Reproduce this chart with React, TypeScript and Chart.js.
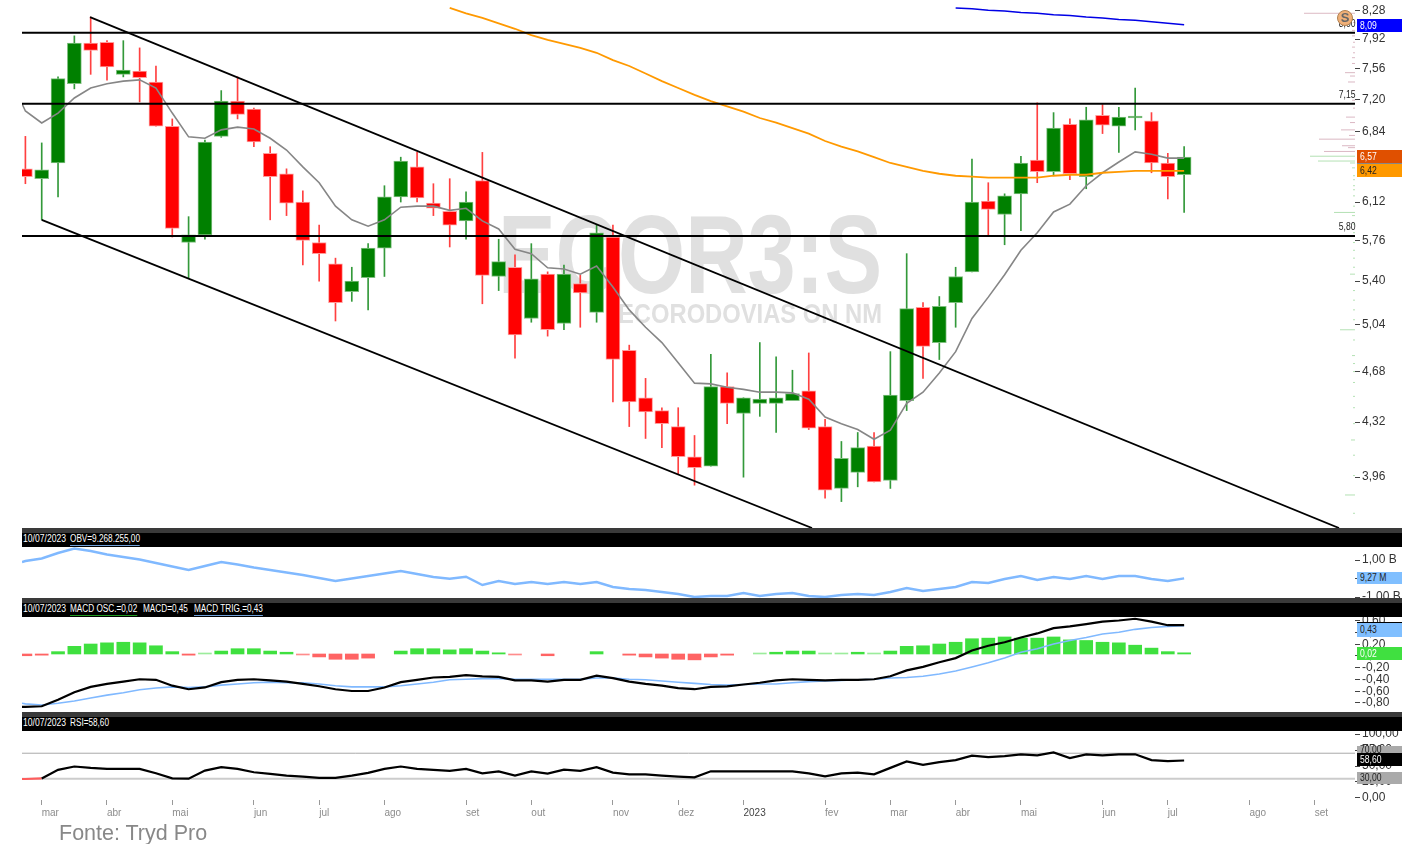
import React, { useEffect, useRef } from "react";
import { Chart, registerables } from "chart.js";

Chart.register(...registerables);

// ---------- data ----------
const opens = [6.45,6.35,6.51,7.38,7.87,7.88,7.49,7.53,7.40,6.90,5.74,5.81,6.79,7.18,7.09,6.61,6.40,6.12,5.74,5.55,5.31,5.43,5.69,6.17,6.47,6.11,6.03,5.94,6.33,5.44,5.52,5.09,5.46,5.05,5.38,5.14,5.79,4.84,4.49,4.40,4.29,4.09,4.03,4.57,4.38,4.45,4.45,4.47,4.54,4.29,3.89,3.99,4.16,3.94,4.47,5.18,4.90,5.22,5.48,6.13,6.00,6.20,6.54,6.42,6.92,6.37,7.02,6.90,6.99,6.96,6.51,6.39];
const highs = [6.79,6.72,7.46,7.96,8.20,7.90,7.90,7.81,7.59,6.98,5.98,6.75,7.30,7.46,7.10,6.68,6.45,6.23,5.90,5.60,5.52,5.73,6.28,6.57,6.62,6.30,6.35,6.22,6.62,5.77,5.63,5.73,5.48,5.54,5.45,5.90,5.90,4.88,4.63,4.42,4.42,4.23,4.81,4.67,4.49,4.90,4.79,4.69,4.82,4.34,4.19,4.25,4.25,4.83,5.64,5.22,5.27,5.52,6.55,6.31,6.20,6.58,7.16,7.05,6.98,7.11,7.14,7.11,7.33,7.05,6.61,6.68];
const lows = [6.30,5.95,6.17,7.32,7.49,7.42,7.46,7.17,6.90,5.79,5.43,5.77,6.78,6.98,6.68,5.95,5.99,5.54,5.40,5.07,5.23,5.16,5.44,6.12,6.12,5.99,5.70,5.77,5.21,5.32,4.78,5.06,4.95,5.00,5.02,5.06,4.46,4.29,4.21,4.15,3.98,3.91,4.03,4.31,3.96,4.36,4.25,4.47,4.27,3.83,3.81,3.90,3.93,3.89,4.40,4.63,4.77,5.02,5.48,5.81,5.72,5.85,6.31,6.38,6.34,6.25,6.82,6.62,6.86,6.41,6.15,6.02];
const closes = [6.37,6.44,7.44,7.87,7.78,7.58,7.54,7.45,6.90,5.87,5.81,6.73,7.18,7.03,6.73,6.37,6.11,5.76,5.64,5.22,5.40,5.69,6.17,6.53,6.16,6.06,5.90,6.12,5.45,5.57,4.96,5.42,5.00,5.46,5.30,5.83,4.77,4.46,4.39,4.31,4.09,4.02,4.57,4.45,4.49,4.48,4.49,4.52,4.28,3.88,4.08,4.15,3.93,4.51,5.17,4.87,5.19,5.44,6.12,6.05,6.18,6.51,6.42,6.88,6.40,6.97,6.91,7.00,7.00,6.51,6.37,6.57];

const maShort = [7.068,6.935,7.045,7.215,7.33,7.38,7.41,7.425,7.33,7.045,6.785,6.77,6.86,6.89,6.87,6.77,6.645,6.47,6.31,6.08,5.95,5.89,5.95,6.07,6.08,6.08,6.04,6.06,5.94,5.865,5.68,5.64,5.515,5.505,5.46,5.53,5.35,5.16,5.02,4.90,4.745,4.595,4.59,4.565,4.55,4.53,4.53,4.525,4.48,4.355,4.31,4.27,4.205,4.265,4.45,4.53,4.67,4.83,5.09,5.265,5.455,5.67,5.83,6.025,6.10,6.28,6.41,6.52,6.625,6.60,6.56,6.56];
const maShortLead = 7.15; // values at the left edge of the plot, before the first candle
const obvLead = 892;
const macdLineLead = -0.9;
const macdTrigLead = -0.84;
const rsiLead = 29.7;
const maMidStart = 26;
const maMid = [8.32,8.25,8.19,8.12,8.05,7.97,7.91,7.86,7.81,7.75,7.66,7.59,7.50,7.41,7.33,7.25,7.18,7.12,7.06,6.99,6.94,6.88,6.82,6.74,6.68,6.63,6.57,6.51,6.47,6.43,6.40,6.38,6.37,6.36,6.36,6.36,6.36,6.38,6.39,6.39,6.41,6.42,6.43,6.43,6.43,6.43];
const maLongStart = 57;
const maLong = [8.32,8.31,8.29,8.28,8.26,8.25,8.23,8.22,8.20,8.19,8.17,8.16,8.14,8.12,8.10];

const supportLevels = [8.0, 7.15, 5.80];
const trendUpperX = [3.96, 80.49];
const trendUpperY = [8.2, 3.654];
const trendLowerX = [1, 48.2];
const trendLowerY = [5.95, 3.654];

const priceTicks = [8.28,7.92,7.56,7.2,6.84,6.12,5.76,5.4,5.04,4.68,4.32,3.96];

const profileSellPrices = [8.25,8.13,8.03,7.96,7.88,7.82,7.75,7.69,7.62,7.51,7.47,7.40,7.30,7.19,7.10,7.00,6.94,6.86,6.80,6.76,6.69,6.67,6.63];
const profileSellVolumes = [51,2,3,3,2,3,2,3,3,10,5,7,3,3,2,9,5,14,6,36,13,7,31];
const profileBuyPrices = [6.58,6.53,6.51,6.46,6.38,6.34,6.28,6.24,6.18,6.08,6.02,5.99,5.91,5.83,5.74,5.67,5.60,5.52,5.46,5.32,5.24,5.16,5.08,5.00,4.92,4.80,4.74,4.68,4.60,4.50,4.42,4.31,4.20,4.10,3.97,3.85,3.74];
const profileBuyVolumes = [45,37,5,3,2,2,2,2,2,2,21,3,2,2,2,2,2,2,5,2,2,2,2,15,2,3,2,2,2,2,2,2,4,2,2,10,2];

const obv = [946,1081,1378,1622,1486,1297,1162,1027,838,649,459,676,892,757,595,459,324,189,27,-135,0,135,270,405,243,81,-11,97,-351,-135,-297,-189,-297,-189,-297,-189,-459,-568,-622,-730,-838,-1000,-946,-946,-784,-946,-838,-784,-946,-1000,-892,-838,-892,-730,-514,-676,-568,-459,-189,-243,-27,135,-81,81,-27,135,-27,135,135,-27,-135,9.27];
const obvTicks = [1000, 0, -1000];

const macdOsc = [-0.03,-0.02,0.04,0.13,0.17,0.19,0.20,0.19,0.14,0.04,-0.02,0.01,0.05,0.09,0.09,0.05,0.03,-0.01,-0.05,-0.09,-0.09,-0.07,null,0.05,0.09,0.09,0.07,0.09,0.05,0.02,-0.01,null,-0.03,null,null,0.04,null,-0.02,-0.05,-0.07,-0.09,-0.10,-0.05,-0.02,null,0.01,0.03,0.05,0.05,0.01,0.01,0.03,0.01,0.05,0.13,0.14,0.17,0.20,0.26,0.27,0.29,0.27,0.27,0.29,0.24,0.23,0.20,0.19,0.15,0.10,0.04,0.02];
const macdLine = [-0.90,-0.89,-0.78,-0.65,-0.56,-0.51,-0.47,-0.43,-0.44,-0.54,-0.60,-0.57,-0.48,-0.44,-0.43,-0.45,-0.47,-0.51,-0.55,-0.60,-0.63,-0.63,-0.57,-0.48,-0.44,-0.40,-0.39,-0.36,-0.38,-0.39,-0.45,-0.45,-0.47,-0.44,-0.44,-0.37,-0.41,-0.47,-0.51,-0.54,-0.58,-0.60,-0.56,-0.55,-0.52,-0.49,-0.45,-0.43,-0.44,-0.45,-0.44,-0.44,-0.43,-0.38,-0.28,-0.22,-0.14,-0.07,0.06,0.14,0.20,0.28,0.35,0.44,0.47,0.51,0.55,0.57,0.60,0.55,0.49,0.49];
const macdTrig = [-0.85,-0.87,-0.84,-0.80,-0.75,-0.70,-0.66,-0.61,-0.58,-0.56,-0.57,-0.56,-0.53,-0.51,-0.49,-0.48,-0.49,-0.49,-0.51,-0.54,-0.56,-0.56,-0.56,-0.54,-0.51,-0.48,-0.44,-0.43,-0.42,-0.42,-0.43,-0.43,-0.43,-0.43,-0.43,-0.41,-0.41,-0.43,-0.44,-0.46,-0.48,-0.50,-0.52,-0.53,-0.52,-0.51,-0.51,-0.49,-0.47,-0.46,-0.45,-0.44,-0.43,-0.41,-0.40,-0.38,-0.34,-0.29,-0.22,-0.15,-0.07,0.03,0.09,0.17,0.23,0.28,0.34,0.37,0.42,0.45,0.47,0.48];
const macdTicks = [0.6,0.4,0.2,0,-0.2,-0.4,-0.6,-0.8];

const rsi = [29.7,30.6,44,49.2,47.1,45.6,45.6,45.6,38.6,30.6,30.2,42.9,48.1,45.6,40.2,37.6,34.9,33.3,31.3,31.3,34.9,39.2,45.6,49.2,45.6,44,42.4,45.6,38.6,41.7,34.9,41.7,38.1,44.4,42.4,48.1,39.7,37,37,34.9,33.3,32.2,41.7,41.7,41.7,41.7,41.7,41.7,38.6,33.8,38.6,39.7,37,47.1,57.1,51.9,56,59.2,66.2,64,65.6,68.3,66.7,71.4,62.4,68.3,66.7,68.3,68.3,59.2,57.6,58.6];
const rsiBands = [70, 30];
const rsiTicks = [100,75,50,25,0];

const monthTickIndexes = [1,5,9,14,18,22,27,31,36,40,44,49,53,57,61,66,70,75,79];
const monthLabels = ["mar","abr","mai","jun","jul","ago","set","out","nov","dez","2023","fev","mar","abr","mai","jun","jul","ago","set"];

// ---------- shared settings ----------
const X_MIN = -0.208;
const X_MAX = 81.47;
const FONT = "'Liberation Sans', Arial, sans-serif";
const GREEN = "#008000";
const RED = "#ff0000";

const comma = (v: number, d = 2) => v.toFixed(d).replace(".", ",");
const pts = (arr: (number | null)[], start = 0) => arr.map((y, i) => ({ x: i + start, y }));
const ptsLead = (lead: number, arr: number[]) => [{ x: X_MIN, y: lead }, ...pts(arr)];

const noPad = (s: any) => {
  s.paddingTop = 0;
  s.paddingBottom = 0;
  s.paddingLeft = 0;
  s.paddingRight = 0;
};

const xHidden = { type: "linear", min: X_MIN, max: X_MAX, display: false, offset: false };
const yAxis = (ticks: number[], fmt: (v: number) => string, extra: any) => ({
  position: "right",
  afterFit: (s: any) => { s.width = 57; noPad(s); },
  afterBuildTicks: (s: any) => { s.ticks = ticks.map((value) => ({ value })); },
  grid: { drawOnChartArea: false, drawTicks: true, tickLength: 5, color: "#444", tickWidth: 1 },
  border: { display: false },
  ticks: {
    autoSkip: false,
    padding: 2,
    color: "#333",
    font: { family: FONT, size: 12 },
    callback: (v: any) => fmt(Number(v)),
  },
  ...extra,
});

const baseOptions = (scales: any, plugins: any = {}) => ({
  responsive: false,
  animation: false as const,
  devicePixelRatio: 1,
  events: [] as string[],
  layout: { padding: { left: 22, right: 0, top: 0, bottom: 0 } },
  plugins: { legend: { display: false }, tooltip: { enabled: false }, ...plugins },
  elements: { point: { radius: 0 }, line: { tension: 0 } },
  scales,
});

const line = (data: any, color: string, width: number, order: number, extra: any = {}) => ({
  type: "line",
  data,
  borderColor: color,
  borderWidth: width,
  pointRadius: 0,
  fill: false,
  order,
  ...extra,
});

const watermark = {
  id: "watermark",
  beforeDatasetsDraw(chart: any) {
    const { ctx } = chart;
    const draw = (text: string, size: number, right: number, bottom: number, width: number) => {
      ctx.save();
      ctx.font = `bold ${size}px ${FONT}`;
      ctx.fillStyle = "#e0e0e0";
      ctx.textAlign = "left";
      ctx.textBaseline = "alphabetic";
      const w = ctx.measureText(text).width;
      ctx.translate(right - width, bottom);
      ctx.scale(width / w, 1);
      ctx.fillText(text, 0, 0);
      ctx.restore();
    };
    draw("ECOR3:S", 112, 882, 293, 384);
    draw("ECORODOVIAS ON NM", 28, 882, 323, 264);
  },
};

const profilePoints = (prices: number[], volumes: number[]) =>
  prices.flatMap((p, i) => [{ x: 0, y: p }, { x: volumes[i], y: p }, { x: 0, y: null }]);

// ---------- small DOM parts ----------
const Squeezed = ({ text, x, y, color = "#fff", underline, align, squeeze = 0.86 }: any) => (
  <span
    style={{
      position: "absolute",
      left: align === "right" ? undefined : x,
      right: align === "right" ? 1412 - x : undefined,
      top: y,
      font: `10px ${FONT}`,
      lineHeight: "12px",
      color,
      whiteSpace: "nowrap",
      transform: `scaleX(${squeeze})`,
      transformOrigin: align === "right" ? "right center" : "left center",
      borderBottom: underline ? `1px solid ${underline}` : undefined,
    }}
  >
    {text}
  </span>
);

const PaneHeader = ({ top, items }: any) => (
  <>
    <div style={{ position: "absolute", left: 22, width: 1380, top, height: 4.5, background: "#3a3a3a" }} />
    <div style={{ position: "absolute", left: 22, width: 1380, top: top + 4.5, height: 14, background: "#000" }} />
    {items.map((it: any) => (
      <Squeezed key={it.text} text={it.text} x={it.x} y={top + 5} underline={it.underline} squeeze={it.x === 23 ? 0.86 : 0.82} />
    ))}
  </>
);

const ValueBox = ({ top, height, bg, color, text, extra }: any) => (
  <div style={{ position: "absolute", left: 1357, width: 45, top, height, background: bg, ...extra }}>
    <Squeezed text={text} x={3} y={(height - 12) / 2} color={color} />
  </div>
);

export default function App() {
  const mainRef = useRef<HTMLCanvasElement>(null);
  const obvRef = useRef<HTMLCanvasElement>(null);
  const macdRef = useRef<HTMLCanvasElement>(null);
  const rsiRef = useRef<HTMLCanvasElement>(null);

  useEffect(() => {
    const candleColor = (up: string, down: string) => (c: any) =>
      closes[c.dataIndex] >= opens[c.dataIndex] ? up : down;

    const main = new Chart(mainRef.current as any, {
      type: "line",
      plugins: [watermark],
      data: {
        datasets: [
          line(profilePoints(profileSellPrices, profileSellVolumes), "rgba(190,125,145,0.55)", 1, 9, { xAxisID: "xProfile" }),
          line(profilePoints(profileBuyPrices, profileBuyVolumes), "rgba(130,205,130,0.6)", 1, 9, { xAxisID: "xProfile" }),
          {
            type: "bar",
            data: highs.map((h, i) => ({ x: i, y: [lows[i], h] })),
            backgroundColor: candleColor("#33993a", "#ff4040"),
            barThickness: 1,
            grouped: false,
            order: 8,
          },
          {
            type: "bar",
            data: opens.map((o, i) => ({ x: i, y: [Math.min(o, closes[i]), Math.max(o, closes[i])] })),
            backgroundColor: candleColor(GREEN, RED),
            borderColor: candleColor("#7fbf7f", "#ff9c9c"),
            borderWidth: 1,
            borderSkipped: false,
            barThickness: 14,
            minBarLength: 2,
            grouped: false,
            order: 7,
          },
          line(ptsLead(maShortLead, maShort), "#868686", 1.6, 4),
          line(pts(maMid, maMidStart), "#ff9900", 1.8, 3),
          line(pts(maLong, maLongStart), "#0000e6", 1.5, 3),
          ...supportLevels.map((p) =>
            line([{ x: X_MIN, y: p }, { x: X_MAX, y: p }], "#000", 2, 2)
          ),
          line(trendUpperX.map((x, i) => ({ x, y: trendUpperY[i] })), "#000", 1.8, 1),
          line(trendLowerX.map((x, i) => ({ x, y: trendLowerY[i] })), "#000", 1.8, 1),
        ] as any,
      },
      options: baseOptions({
        x: xHidden,
        xProfile: { type: "linear", min: 0, max: 1333, reverse: true, display: false, offset: false },
        y: yAxis(priceTicks, (v) => comma(v), { type: "logarithmic", min: 3.654, max: 8.425 }),
      }) as any,
    });

    const obvChart = new Chart(obvRef.current as any, {
      type: "line",
      data: { datasets: [line(ptsLead(obvLead, obv), "#80b9ff", 2.4, 1)] as any },
      options: baseOptions({
        x: xHidden,
        y: yAxis(obvTicks, (v) => (v === 0 ? "0,00" : `${comma(v / 1000)} B`), { type: "linear", min: -1108, max: 1703 }),
      }) as any,
    });

    const macdChart = new Chart(macdRef.current as any, {
      type: "line",
      data: {
        datasets: [
          {
            type: "bar",
            data: pts(macdOsc),
            yAxisID: "yOsc",
            backgroundColor: (c: any) => {
              const v = macdOsc[c.dataIndex] ?? 0;
              if (Math.abs(v) <= 0.011) return v > 0 ? "#9cec9c" : "#ff8c8c";
              return v > 0 ? "#3fe03f" : "#ff6464";
            },
            barThickness: 13,
            minBarLength: 1,
            grouped: false,
            order: 5,
          },
          line(ptsLead(macdTrigLead, macdTrig), "#80b9ff", 1.6, 2),
          line(ptsLead(macdLineLead, macdLine), "#000", 2.2, 1),
        ] as any,
      },
      options: baseOptions({
        x: xHidden,
        yOsc: { type: "linear", min: -0.988, max: 0.63, display: false },
        y: yAxis(macdTicks, (v) => comma(v), { type: "linear", min: -0.954, max: 0.664 }),
      }) as any,
    });

    const rsiChart = new Chart(rsiRef.current as any, {
      type: "line",
      data: {
        datasets: [
          line([{ x: X_MIN, y: rsiBands[0] }, { x: X_MAX, y: rsiBands[0] }], "#aaaaaa", 1, 3),
          line([{ x: X_MIN, y: rsiBands[1] }, { x: X_MAX, y: rsiBands[1] }], "#cccccc", 2, 3),
          line(ptsLead(rsiLead, rsi), "#000", 2.2, 1, {
            segment: { borderColor: (c: any) => (c.p0DataIndex <= 1 ? "#ff5c5c" : undefined) },
          }),
        ] as any,
      },
      options: baseOptions({
        x: {
          type: "linear",
          min: X_MIN,
          max: X_MAX,
          offset: false,
          afterFit: (s: any) => { s.height = 22; noPad(s); },
          afterBuildTicks: (s: any) => { s.ticks = monthTickIndexes.map((value) => ({ value })); },
          grid: { drawOnChartArea: false, drawTicks: true, tickLength: 5, color: "#999" },
          border: { display: false },
          ticks: {
            autoSkip: false,
            maxRotation: 0,
            minRotation: 0,
            align: "start",
            padding: 2,
            color: (c: any) => (monthLabels[c.index] === "2023" ? "#444" : "#8c8c8c"),
            font: { family: FONT, size: 10 },
            callback: (_v: any, i: number) => monthLabels[i],
          },
        },
        y: yAxis(rsiTicks, (v) => comma(v), { type: "linear", min: -3.2, max: 104.8 }),
      }) as any,
    });

    return () => {
      main.destroy();
      obvChart.destroy();
      macdChart.destroy();
      rsiChart.destroy();
    };
  }, []);

  const canvasStyle = (top: number): React.CSSProperties => ({ position: "absolute", left: 0, top, display: "block" });

  return (
    <div style={{ position: "absolute", left: 0, top: 0, width: 1412, height: 844, background: "#fff", overflow: "hidden" }}>
      <canvas ref={mainRef} width={1412} height={528} style={canvasStyle(0)} />
      <canvas ref={obvRef} width={1412} height={52} style={canvasStyle(547)} />
      <canvas ref={macdRef} width={1412} height={95} style={canvasStyle(617)} />
      <canvas ref={rsiRef} width={1412} height={91} style={canvasStyle(731)} />

      <PaneHeader
        top={528}
        items={[
          { text: "10/07/2023", x: 23 },
          { text: "OBV=9.268.255,00", x: 70, underline: "#6f9fd8" },
        ]}
      />
      <PaneHeader
        top={598}
        items={[
          { text: "10/07/2023", x: 23 },
          { text: "MACD OSC.=0,02", x: 70, underline: "#1f9a1f" },
          { text: "MACD=0,45", x: 143 },
          { text: "MACD TRIG.=0,43", x: 194, underline: "#6f9fd8" },
        ]}
      />
      <PaneHeader
        top={712}
        items={[
          { text: "10/07/2023", x: 23 },
          { text: "RSI=58,60", x: 70 },
        ]}
      />

      <Squeezed text="8,00" x={1355} y={18} color="#222" align="right" />
      <Squeezed text="7,15" x={1355} y={89} color="#222" align="right" />
      <Squeezed text="5,80" x={1355} y={221} color="#222" align="right" />
      <div
        style={{
          position: "absolute",
          left: 1337,
          top: 10,
          width: 14,
          height: 14,
          borderRadius: "50%",
          background: "#f0b078",
          border: "1px solid #b08050",
          color: "#666",
          font: `bold 13px ${FONT}`,
          lineHeight: "14px",
          textAlign: "center",
        }}
      >
        S
      </div>

      <ValueBox top={19} height={13} bg="#0000ff" color="#fff" text="8,09" />
      <ValueBox top={150} height={13} bg="#e05000" color="#fff" text="6,57" extra={{ borderBottom: "1px solid #888" }} />
      <ValueBox top={164} height={13} bg="#ff9900" color="#222" text="6,42" />
      <ValueBox top={572} height={12} bg="#80bfff" color="#222" text="9,27 M" />
      <ValueBox top={622} height={14} bg="#80bfff" color="#222" text="0,43" extra={{ borderTop: "1px solid #000" }} />
      <ValueBox top={647} height={13} bg="#40e040" color="#fff" text="0,02" />
      <ValueBox top={746} height={8} bg="#aaaaaa" color="#222" text="70,00" />
      <ValueBox top={753} height={13} bg="#000" color="#fff" text="58,60" />
      <ValueBox top={772} height={12} bg="#aaaaaa" color="#222" text="30,00" />

      <div
        style={{
          position: "absolute",
          left: 59,
          top: 820,
          font: `21.5px ${FONT}`,
          lineHeight: "26px",
          color: "#888",
          whiteSpace: "nowrap",
        }}
      >
        Fonte: Tryd Pro
      </div>
    </div>
  );
}
